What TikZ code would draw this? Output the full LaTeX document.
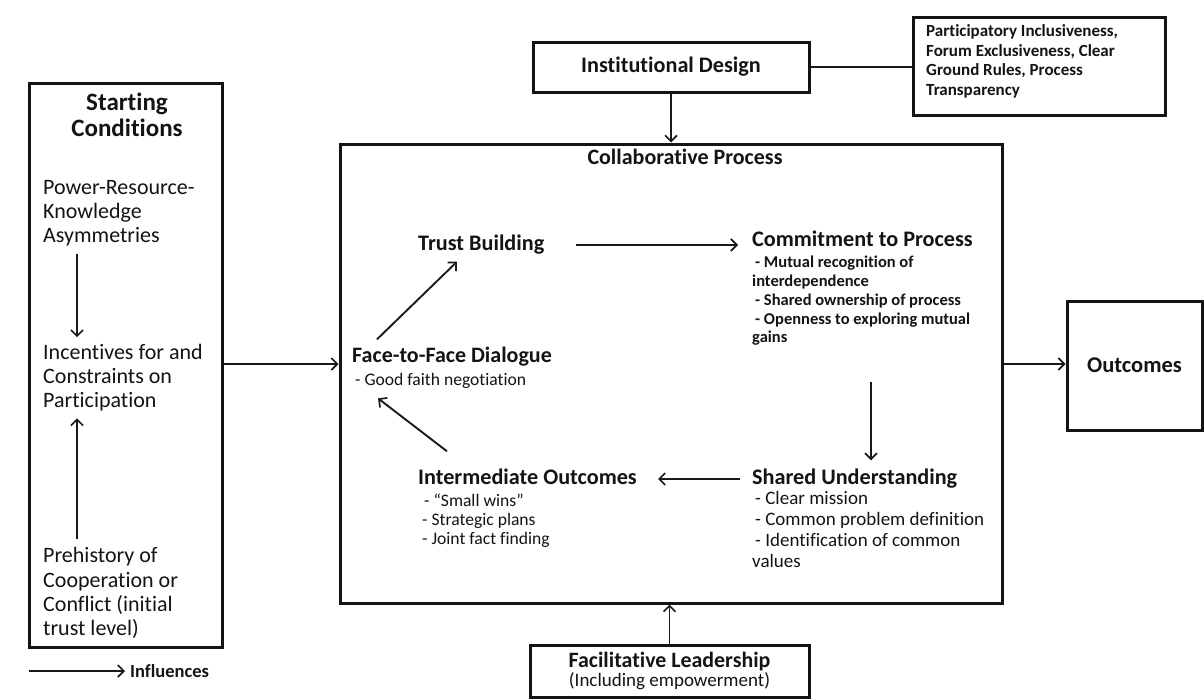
\documentclass[tikz,border=0pt]{standalone}
\usepackage{fontspec}
\setmainfont{Carlito}[Ligatures={NoCommon}]
\usetikzlibrary{arrows.meta}
\begin{document}
\begin{tikzpicture}[x=1pt,y=-1pt,
  every node/.style={inner sep=0pt, text=black!92},
  box/.style={draw=black!92, line width=3pt, inner sep=0pt},
  arr/.style={draw=black!90, line width=1.9pt, -{Straight Barb[length=6pt,width=12pt,line width=1.7pt]}},
  plain/.style={draw=black!90, line width=1.9pt},
  bigtitle/.style={font=\fontsize{25}{26}\selectfont\bfseries, align=center},
  head/.style={font=\fontsize{22.2}{24}\selectfont\bfseries, text height=15pt, text depth=5pt, anchor=west},
  sclist/.style={font=\fontsize{22}{24.2}\selectfont, align=left, anchor=west},
  clist/.style={font=\fontsize{16.5}{18.8}\selectfont\bfseries, align=left, anchor=west},
  slist/.style={font=\fontsize{19}{20.7}\selectfont, align=left, anchor=west},
  ilist/.style={font=\fontsize{17.6}{19}\selectfont, align=left, anchor=west},
]
\useasboundingbox[fill=white] (0,0) rectangle (1204,699);

% Starting conditions
\node[box, minimum width=193pt, minimum height=564pt] (start) at (125.5,365) {};
\node[bigtitle] (sctitle) at (127,115) {Starting\\Conditions};
\node[sclist] (power) at (43,213) {Power-Resource-\\Knowledge\\Asymmetries};
\node[sclist] (incent) at (43,377.5) {Incentives for and\\Constraints on\\Participation};
\node[sclist] (prehist) at (43,593) {Prehistory of\\Cooperation or\\Conflict (initial\\trust level)};
\draw[arr] ([xshift=34pt,yshift=-8pt]power.south west) -- ([xshift=34pt,yshift=6.5pt]incent.north west);
\draw[arr] ([xshift=34pt,yshift=8.7pt]prehist.north west) -- ([xshift=34pt,yshift=-7pt]incent.south west);

% legend
\node[font=\fontsize{18.5}{20}\selectfont\bfseries, anchor=west] (infl) at (130,671) {Influences};
\draw[arr] ([xshift=-101pt]infl.west) -- ([xshift=-5pt]infl.west);

% Institutional design
\node[box, minimum width=276pt, minimum height=50pt, font=\fontsize{22.2}{24}\selectfont\bfseries] (inst) at (671,67) {Institutional Design};
\node[box, minimum width=252pt, minimum height=98pt] (part) at (1039,66) {};
\node[font=\fontsize{17}{19.5}\selectfont\bfseries, align=left, anchor=west] (parttxt) at (926,61.5) {Participatory Inclusiveness,\\Forum Exclusiveness, Clear\\Ground Rules, Process\\Transparency};
\draw[plain] (inst.east) -- (inst.east -| part.west);

% Collaborative process
\node[box, minimum width=662pt, minimum height=459pt] (collab) at (671,373.5) {};
\node[font=\fontsize{22}{24}\selectfont\bfseries] (ctitle) at (685,157) {Collaborative Process};
\draw[arr] (inst.south) -- (inst.south |- collab.north);
\coordinate (cin) at ([yshift=9.5pt]collab.west);
\draw[arr] (start.east |- cin) -- (cin);

% Outcomes
\node[box, minimum width=135pt, minimum height=129pt, font=\fontsize{22.5}{24}\selectfont\bfseries] (outc) at (1134.5,365.5) {Outcomes};
\draw[arr] (collab.east |- cin) -- (outc.west |- cin);

% Facilitative leadership
\node[box, minimum width=279pt, minimum height=52pt, align=center] (fac) at (669.5,671)
  {{\fontsize{21.9}{22}\selectfont\bfseries Facilitative Leadership}\\[1pt]{\fontsize{19}{22}\selectfont (Including empowerment)}};
\draw[arr] (fac.north) -- (fac.north |- collab.south);

% Process items
\node[head] (trust) at (418,245) {Trust Building};
\node[head, font=\fontsize{22}{24}\selectfont\bfseries] (face) at (352,357) {Face-to-Face Dialogue};
\node[ilist] (facesub) at (355,381) {- Good faith negotiation};
\node[head] (commit) at (752,241) {Commitment to Process};
\node[clist] (commitsub) at (752,301) {\hspace{3pt}- Mutual recognition of\\interdependence\\\hspace{3pt}- Shared ownership of process\\\hspace{3pt}- Openness to exploring mutual\\gains};
\node[head] (shared) at (752,479) {Shared Understanding};
\node[slist] (sharedsub) at (752,529.5) {\hspace{3pt}- Clear mission\\\hspace{3pt}- Common problem definition\\\hspace{3pt}- Identification of common\\values};
\node[head] (inter) at (418,479) {Intermediate Outcomes};
\node[ilist] (intersub) at (422,521) {\hspace{2pt}- ``Small wins''\\- Strategic plans\\- Joint fact finding};

\draw[arr] ([xshift=25pt,yshift=7.5pt]face.north west) -- ([xshift=39pt,yshift=-6.5pt]trust.south west);
\draw[arr] ([xshift=32pt]trust.east) -- ([xshift=-14pt]trust.east -| commit.west);
\draw[arr] ([xshift=119pt,yshift=-36pt]commitsub.south west) -- ([xshift=119pt,yshift=8.5pt]shared.north west);
\draw[arr] ([xshift=-12pt]shared.west) -- ([xshift=21pt]inter.east);
\draw[arr] ([xshift=29pt,yshift=17.5pt]inter.north west) -- ([xshift=23pt,yshift=-9.5pt]facesub.south west);
\end{tikzpicture}
\end{document}
